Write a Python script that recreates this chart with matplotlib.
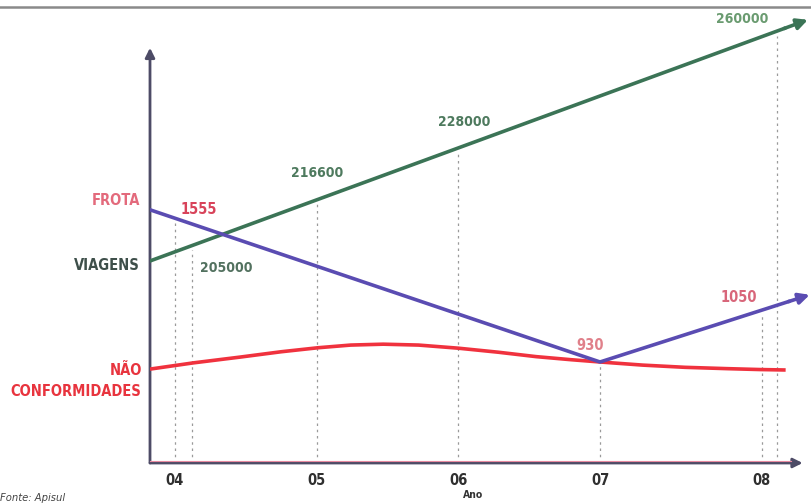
import numpy as np
import matplotlib
matplotlib.use('Agg')
import matplotlib.pyplot as plt

# eixo x: anos (posicao das marcas no desenho esquematico)
tick_pos = [2004, 2005, 2006, 2007, 2008.14]
tick_labels = ['04', '05', '06', '07', '08']

# VIAGENS (linha verde) - altura relativa no grafico (0-100)
viagens_x = [2003.824, 2008.467]
viagens_y = [45.4, 99.6]
viagens_label_x = [2004.12, 2005.0, 2006.0, 2008.25]
viagens_vals = [205000, 216600, 228000, 260000]

# FROTA (linha roxa)
frota_x = [2003.824, 2007.0, 2008.48]
frota_y = [56.9, 22.7, 37.8]
frota_label_x = [2004.0, 2007.0, 2008.14]
frota_vals = [1555, 930, 1050]

# NAO CONFORMIDADES (linha vermelha)
nc_x = [2003.824, 2004.13, 2004.46, 2004.75, 2005.01, 2005.24, 2005.47,
        2005.72, 2006.0, 2006.28, 2006.55, 2006.8, 2007.0, 2007.3, 2007.6,
        2007.9, 2008.13, 2008.31]
nc_y = [21.1, 22.5, 23.8, 25.0, 25.9, 26.5, 26.7, 26.5, 25.8, 24.9, 23.9,
        23.2, 22.7, 22.0, 21.5, 21.2, 21.0, 20.9]

green = '#3b7456'
purple = '#5a4cb2'
red = '#f0323e'
axis_col = '#4d4b66'
bold = dict(family='DejaVu Sans', fontstretch='condensed', fontweight='bold')

fig = plt.figure(figsize=(8.11, 5.04), dpi=100)
ax = fig.add_axes([150 / 811, 41 / 504, 661 / 811, 445 / 504])
ax.set_xlim(2003.824, 2008.489)
ax.set_ylim(0, 100)
for s in ax.spines.values():
    s.set_visible(False)
ax.set_yticks([])
ax.set_xticks(tick_pos)
ax.set_xticklabels(tick_labels, fontsize=10.5, color='#2f2f2f', **bold)
ax.tick_params(axis='x', length=0, pad=7)

# linhas pontilhadas verticais ate cada valor
def dotted(xs, sx, sy):
    for x in xs:
        top = np.interp(x, sx, sy)
        ax.plot([x, x], [0, top - 1.0], color='#9a9a9a', lw=0.9,
                ls=(0, (2, 3)), zorder=1)

dotted(viagens_label_x, viagens_x, viagens_y)
dotted(frota_label_x, frota_x, frota_y)

# eixos com setas
ax.annotate('', xy=(2003.824, 93.3), xytext=(2003.824, 0),
            arrowprops=dict(arrowstyle='-|>', color=axis_col, lw=2,
                            mutation_scale=14, shrinkA=0, shrinkB=0),
            annotation_clip=False, zorder=2)
ax.annotate('', xy=(2008.43, 0), xytext=(2003.824, 0),
            arrowprops=dict(arrowstyle='-|>', color=axis_col, lw=2,
                            mutation_scale=14, shrinkA=0, shrinkB=0),
            annotation_clip=False, zorder=2)
ax.plot([2003.824, 2008.35], [0.35, 0.35], color='#e88aa0', lw=0.8, zorder=2,
        clip_on=False)

# series (a ultima parte de verde e roxo vira seta)
ax.plot(nc_x, nc_y, color=red, lw=2.6, solid_capstyle='butt', zorder=3)

def arrow_line(sx, sy, col, back, z):
    xs = [x for x in sx[:-1] if x < back] + [back]
    ys = np.interp(xs, sx, sy)
    ax.plot(xs, ys, color=col, lw=2.6, zorder=z)
    ax.annotate('', xy=(sx[-1], sy[-1]), xytext=(back, ys[-1]),
                arrowprops=dict(arrowstyle='-|>', color=col, lw=2.6,
                                mutation_scale=16, shrinkA=0, shrinkB=0),
                annotation_clip=False, zorder=z)

arrow_line(viagens_x, viagens_y, green, 2008.3, 4)
arrow_line(frota_x, frota_y, purple, 2008.33, 5)

# valores
viag_off = [(25, -16), (0, 19), (4, 19), (-25, 8.5)]
viag_cols = ['#52715f', '#4e7a5e', '#4e7a5e', '#6a9b70']
for x, v, off, c in zip(viagens_label_x, viagens_vals, viag_off, viag_cols):
    ax.annotate(str(v), xy=(x, np.interp(x, viagens_x, viagens_y)),
                xytext=off, textcoords='offset points', ha='center',
                va='center', fontsize=10, color=c, annotation_clip=False,
                **bold)

frota_off = [(17, 6.5), (-7, 12), (-16.5, 9.5)]
frota_cols = ['#d8435a', '#e0808a', '#d8667a']
for x, v, off, c in zip(frota_label_x, frota_vals, frota_off, frota_cols):
    ax.annotate(str(v), xy=(x, np.interp(x, frota_x, frota_y)),
                xytext=off, textcoords='offset points', ha='center',
                va='center', fontsize=10.5, color=c, annotation_clip=False,
                **bold)

# nomes das series
ax.annotate('FROTA', xy=(frota_x[0], frota_y[0]), xytext=(-7, 7),
            textcoords='offset points', ha='right', va='center',
            fontsize=10.5, color='#e36a7c', annotation_clip=False, **bold)
ax.annotate('VIAGENS', xy=(viagens_x[0], viagens_y[0]), xytext=(-7, -3.6),
            textcoords='offset points', ha='right', va='center',
            fontsize=10.5, color='#3e4f4a', annotation_clip=False, **bold)
ax.annotate('NÃO\nCONFORMIDADES', xy=(nc_x[0], nc_y[0]), xytext=(-6, -8.6),
            textcoords='offset points', ha='right', va='center',
            multialignment='right', linespacing=1.5,
            fontsize=10.5, color='#e8343e', annotation_clip=False, **bold)

# moldura superior e textos
fig.add_artist(plt.Line2D([0, 1], [1 - 7 / 504, 1 - 7 / 504], color='#8a8a8a',
                          lw=1.8, transform=fig.transFigure))
fig.text(0.0, 1 - 498 / 504, 'Fonte: Apisul', fontsize=8, style='italic',
         color='#444444', ha='left', va='center',
         family='DejaVu Sans', fontstretch='condensed')
fig.text(473 / 811, 1 - 495 / 504, 'Ano', fontsize=7.5, color='#333333',
         ha='center', va='center', **bold)

fig.savefig('out.png', dpi=100, facecolor='white')
